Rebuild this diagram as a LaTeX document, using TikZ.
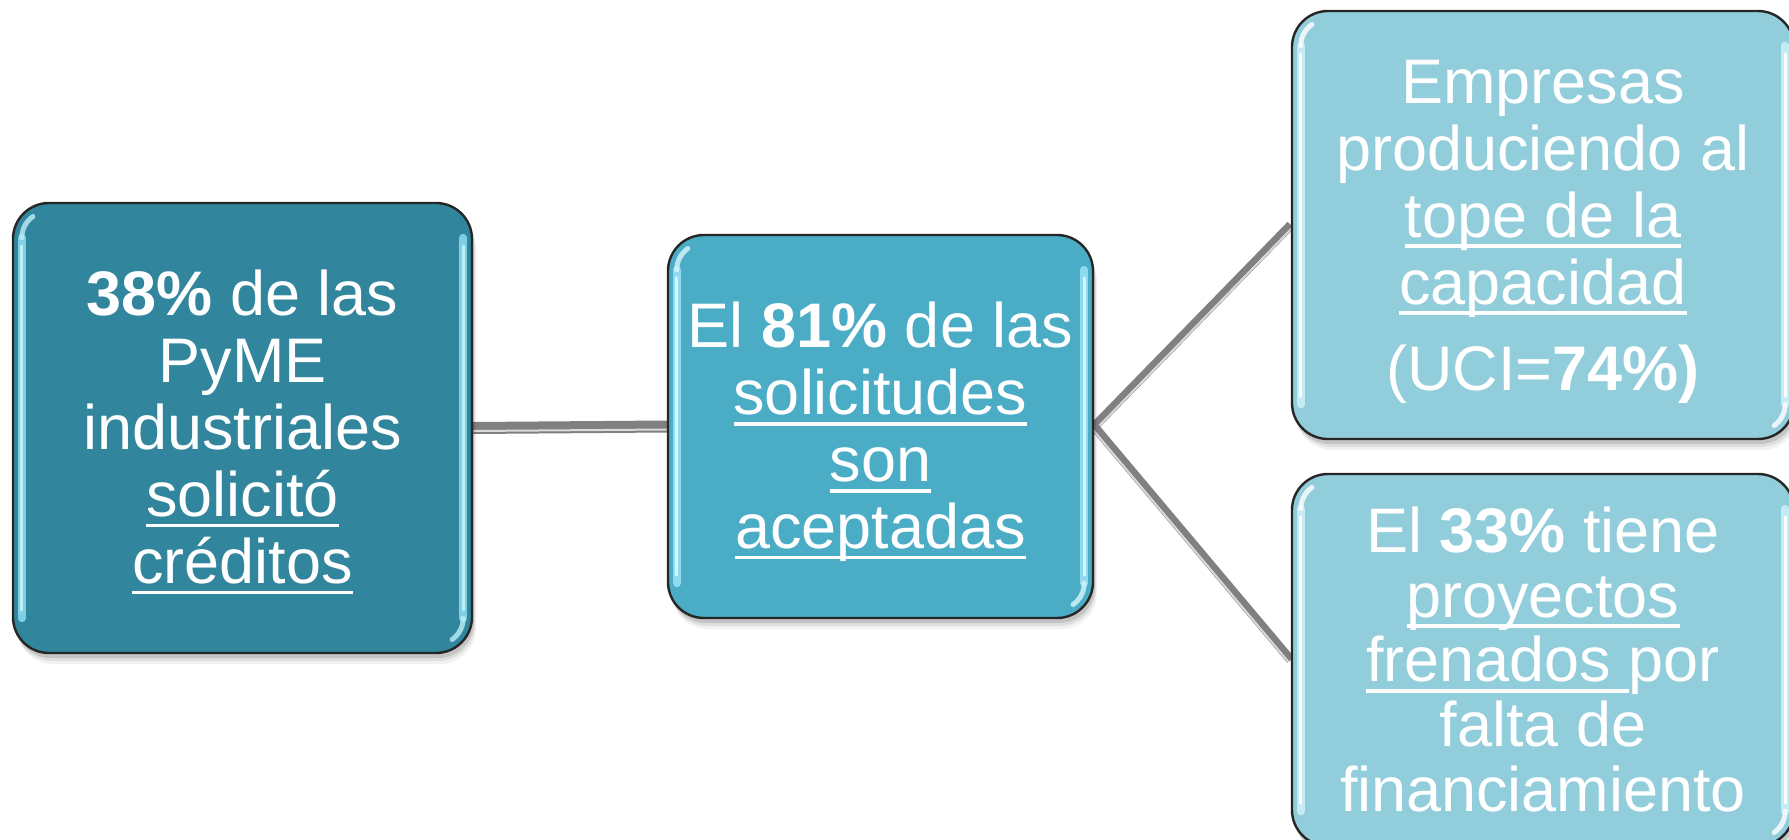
\documentclass[tikz,border=0pt]{standalone}
\usepackage{fontspec}
\setmainfont{Liberation Sans}
\usetikzlibrary{shadows,backgrounds}
\definecolor{cDark}{HTML}{31859C}
\definecolor{cMid}{HTML}{4BACC6}
\definecolor{cLight}{HTML}{92CDDC}
\definecolor{cBorder}{HTML}{262626}
\definecolor{cConn}{HTML}{808080}
\definecolor{cStripe}{HTML}{DADADA}
\definecolor{hlDarkA}{HTML}{7FD0E4}
\definecolor{hlDarkB}{HTML}{BDEFF9}
\definecolor{hlMidA}{HTML}{8FDAEE}
\definecolor{hlMidB}{HTML}{D6F6FC}
\definecolor{hlLightA}{HTML}{C4EAF4}
\definecolor{hlLightB}{HTML}{FFFFFF}
\newcommand\uln[1]{\setbox0\hbox{#1}\rlap{\rule[-0.17em]{\wd0}{0.062em}}\box0}
\newcommand\tst{\rule{0pt}{0.905em}}
\newcommand\bst{\rule[-0.212em]{0pt}{0.212em}}
\newcommand\glossybox[3]{%
  \draw[line width=4bp, line cap=round, #2]
    ([xshift=5bp,yshift=-18bp]#1.north west) -- ([xshift=5bp,yshift=18bp]#1.south west);
  \draw[line width=4bp, line cap=round, #2]
    ([xshift=-5bp,yshift=-18bp]#1.north east) -- ([xshift=-5bp,yshift=18bp]#1.south east);
  \draw[line width=1.4bp, line cap=round, #3]
    ([xshift=5bp,yshift=-22bp]#1.north west) -- ([xshift=5bp,yshift=22bp]#1.south west);
  \draw[line width=1.4bp, line cap=round, #3]
    ([xshift=-5bp,yshift=-22bp]#1.north east) -- ([xshift=-5bp,yshift=22bp]#1.south east);
  \draw[line width=2.5bp, line cap=round, #3, opacity=.8]
    ([xshift=5bp,yshift=-18bp]#1.north west) arc[start angle=180, end angle=125, radius=13bp];
  \draw[line width=2.5bp, line cap=round, #3, opacity=.8]
    ([xshift=-5bp,yshift=18bp]#1.south east) arc[start angle=0, end angle=-55, radius=13bp];
}
\tikzset{
  box/.style={rounded corners=18bp, draw=cBorder, line width=1.2bp, inner sep=0pt,
    align=center, text=white, font=\fontsize{31.6pt}{33.6pt}\selectfont,
    general shadow={fill=black, opacity=0.05, shadow xshift=2bp, shadow yshift=-5.5bp},
    general shadow={fill=black, opacity=0.08, shadow xshift=1.5bp, shadow yshift=-4bp},
    general shadow={fill=black, opacity=0.12, shadow xshift=1bp, shadow yshift=-2.5bp}},
  conn/.style={draw=cConn, line width=6bp},
  conndiag/.style={draw=cConn, line width=4.5bp},
  stripe/.style={draw=cStripe, line width=1bp}
}
\begin{document}
\begin{tikzpicture}[x=0.5bp, y=-0.5bp]
\useasboundingbox (0,0) rectangle (1789,840);
\node[box, fill=cDark, minimum width=229.5bp, minimum height=225bp] (b1) at (242.5,428)
  {\tst\textbf{38\%} de las\\PyME\\industriales\\\uln{solicitó}\\\uln{créditos}\bst};
\node[box, fill=cMid, minimum width=212.5bp, minimum height=191.5bp] (b2) at (880.5,426.5)
  {\tst El \textbf{81\%} de las\\\uln{solicitudes}\\\uln{son}\\\uln{aceptadas}\bst};
\node[box, fill=cLight, minimum width=251bp, minimum height=214bp] (b3) at (1543,225)
  {\tst Empresas\\produciendo al\\\uln{tope de la}\\\uln{capacidad}\\[9.5bp](UCI=\textbf{74\%)}\bst};
\node[box, fill=cLight, minimum width=251bp, minimum height=186bp,
  font=\fontsize{31.6pt}{32.5pt}\selectfont] (b4) at (1543,660)
  {\tst El \textbf{33\%} tiene\\\uln{proyectos}\\\uln{frenados }por\\falta de\\financiamiento\bst};
\glossybox{b1}{hlDarkA}{hlDarkB}
\glossybox{b2}{hlMidA}{hlMidB}
\glossybox{b3}{hlLightA}{hlLightB}
\glossybox{b4}{hlLightA}{hlLightB}
\begin{scope}[on background layer]
  \draw[conn] (b1.east) -- (b2.west);
  \draw[stripe, transform canvas={yshift=-1.5bp}] (b1.east) -- (b2.west);
  \draw[conndiag] (b2.east) -- (b3.west);
  \draw[stripe, transform canvas={xshift=1.1bp, yshift=-1.05bp}] (b2.east) -- (b3.west);
  \draw[conndiag] (b2.east) -- (b4.west);
  \draw[stripe, transform canvas={xshift=-1.15bp, yshift=-1bp}] (b2.east) -- (b4.west);
\end{scope}
\end{tikzpicture}
\end{document}
